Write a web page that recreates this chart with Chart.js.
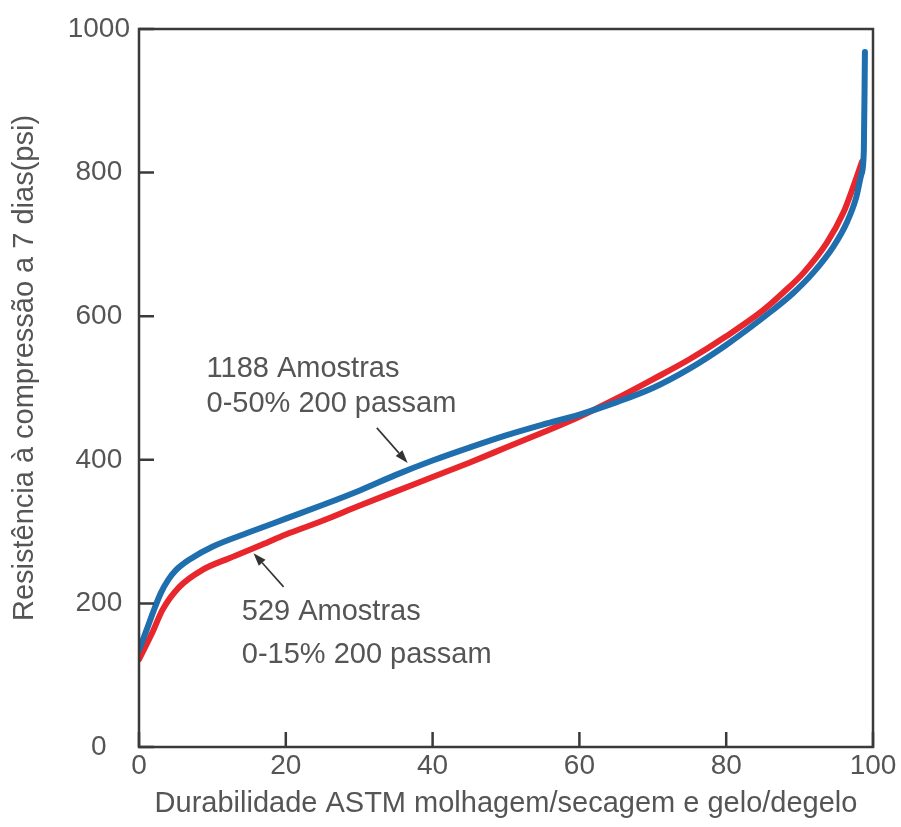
<!DOCTYPE html>
<html>
<head>
<meta charset="utf-8">
<script src="https://cdn.jsdelivr.net/npm/chart.js@4.4.1/dist/chart.umd.min.js"></script>
<style>
  html, body { margin: 0; padding: 0; background: #ffffff; }
  #wrap { width: 901px; height: 827px; }
</style>
</head>
<body>
<div id="wrap"><canvas id="c" width="901" height="827"></canvas></div>
<script>
// ---- Data ----
const xTickValues = [0, 20, 40, 60, 80, 100];
const yTickValues = [0, 200, 400, 600, 800, 1000];

// Series 1: 1188 Amostras, 0-50% 200 passam (blue)
const blueX = [0, 1, 2, 3, 4, 5, 7, 10, 15, 20, 25, 30, 35, 40, 45, 50, 55, 60, 65, 70, 75, 80, 86.4, 89.1, 91.8, 94.6, 96.5, 97.7, 98.4, 98.75, 98.9];
const blueY = [135, 162, 190, 215, 233, 246, 262, 279, 299, 318, 337, 357, 379, 399, 417, 434, 449, 463, 480, 500, 527, 560, 609, 632, 660, 697, 732, 765, 797, 830, 968];

// Series 2: 529 Amostras, 0-15% 200 passam (red)
const redX = [0, 1.8, 3.2, 5.5, 8.7, 12.3, 16.8, 20, 25, 30, 35, 40, 45, 50, 55, 60, 65, 70, 75, 80, 85, 88, 90.5, 93.7, 96, 97.3, 98.5];
const redY = [122, 159, 191, 223, 247, 263, 282, 296, 315, 336, 356, 376, 396, 417, 438, 460, 485, 512, 540, 572, 608, 635, 660, 702, 745, 780, 815];

const noteLines = ['1188 Amostras', '0-50% 200 passam', '529 Amostras', '0-15% 200 passam'];
const noteX = [9.2, 9.2, 14.0, 14.0];
const noteY = [515, 467, 177, 117];

const arrowFromX = [32.4, 19.7];
const arrowFromY = [444.5, 223];
const arrowToX = [36.6, 15.6];
const arrowToY = [395.7, 270];

const xTitle = 'Durabilidade ASTM molhagem/secagem e gelo/degelo';
const yTitle = 'Resistência à compressão a 7 dias(psi)';

// ---- Build chart ----
const FONT = "'Liberation Sans', Arial, Helvetica, sans-serif";
const TEXT = '#555555';
const FRAME = '#3a3a3a';
const TICK_LEN = 15;

const toPts = (xs, ys) => xs.map((x, i) => ({ x: x, y: ys[i] }));

const framePlugin = {
  id: 'frameAndNotes',
  afterDraw(chart) {
    const ctx = chart.ctx;
    const a = chart.chartArea;
    const xs = chart.scales.x, ys = chart.scales.y;
    ctx.save();
    // frame
    ctx.strokeStyle = FRAME;
    ctx.lineWidth = 2.5;
    ctx.strokeRect(a.left, a.top, a.right - a.left, a.bottom - a.top);
    // inward tick marks from the scales' ticks
    ctx.beginPath();
    xs.ticks.forEach(t => {
      const px = xs.getPixelForValue(t.value);
      ctx.moveTo(px, a.bottom);
      ctx.lineTo(px, a.bottom - TICK_LEN);
    });
    ys.ticks.forEach(t => {
      const py = ys.getPixelForValue(t.value);
      ctx.moveTo(a.left, py);
      ctx.lineTo(a.left + TICK_LEN, py);
    });
    ctx.stroke();
    // y axis title
    ctx.fillStyle = TEXT;
    ctx.font = '29px ' + FONT;
    ctx.textAlign = 'center';
    ctx.textBaseline = 'middle';
    ctx.save();
    ctx.translate(25, (a.top + a.bottom) / 2 - 20);
    ctx.rotate(-Math.PI / 2);
    ctx.fillText(yTitle, 0, 0);
    ctx.restore();
    // notes
    ctx.font = '29px ' + FONT;
    ctx.textAlign = 'left';
    ctx.textBaseline = 'alphabetic';
    noteLines.forEach((t, i) => {
      ctx.fillText(t, xs.getPixelForValue(noteX[i]), ys.getPixelForValue(noteY[i]));
    });
    // arrows
    ctx.strokeStyle = '#333333';
    ctx.fillStyle = '#333333';
    ctx.lineWidth = 1.6;
    for (let i = 0; i < arrowFromX.length; i++) {
      const x1 = xs.getPixelForValue(arrowFromX[i]);
      const y1 = ys.getPixelForValue(arrowFromY[i]);
      const x2 = xs.getPixelForValue(arrowToX[i]);
      const y2 = ys.getPixelForValue(arrowToY[i]);
      const ang = Math.atan2(y2 - y1, x2 - x1);
      const hl = 13, hw = 4.5;
      const bx = x2 - hl * Math.cos(ang), by = y2 - hl * Math.sin(ang);
      ctx.beginPath();
      ctx.moveTo(x1, y1);
      ctx.lineTo(bx, by);
      ctx.stroke();
      ctx.beginPath();
      ctx.moveTo(x2, y2);
      ctx.lineTo(bx + hw * Math.sin(ang), by - hw * Math.cos(ang));
      ctx.lineTo(bx - hw * Math.sin(ang), by + hw * Math.cos(ang));
      ctx.closePath();
      ctx.fill();
    }
    ctx.restore();
  }
};

new Chart(document.getElementById('c'), {
  type: 'line',
  data: {
    datasets: [
      {
        label: '1188 Amostras 0-50% 200 passam',
        data: toPts(blueX, blueY),
        borderColor: '#1f6eae',
        borderWidth: 6,
        pointRadius: 0,
        cubicInterpolationMode: 'monotone',
        borderCapStyle: 'round',
        borderJoinStyle: 'round',
        fill: false
      },
      {
        label: '529 Amostras 0-15% 200 passam',
        data: toPts(redX, redY),
        borderColor: '#e8272d',
        borderWidth: 6,
        pointRadius: 0,
        cubicInterpolationMode: 'monotone',
        borderCapStyle: 'round',
        borderJoinStyle: 'round',
        fill: false
      }
    ]
  },
  options: {
    responsive: false,
    animation: false,
    devicePixelRatio: 1,
    layout: { padding: { top: 29, right: 28, bottom: 0, left: 0 } },
    plugins: { legend: { display: false }, tooltip: { enabled: false } },
    scales: {
      x: {
        type: 'linear',
        min: 0, max: 100,
        afterFit: s => { s.height = 80; s.paddingLeft = 0; s.paddingRight = 0; },
        afterBuildTicks: s => { s.ticks = xTickValues.map(v => ({ value: v })); },
        border: { display: false },
        grid: { display: false, drawTicks: false },
        ticks: { color: TEXT, font: { family: FONT, size: 28 }, padding: 2, maxRotation: 0, callback: v => String(v) },
        title: { display: true, text: xTitle, color: TEXT, font: { family: FONT, size: 29 }, padding: { top: 0, bottom: 6 } }
      },
      y: {
        type: 'linear',
        min: 0, max: 1000,
        afterFit: s => { s.width = 139; s.paddingTop = 0; s.paddingBottom = 0; },
        afterBuildTicks: s => { s.ticks = yTickValues.map(v => ({ value: v })); },
        border: { display: false },
        grid: { display: false, drawTicks: false },
        ticks: { color: TEXT, font: { family: FONT, size: 28 }, padding: 9, crossAlign: 'center', callback: v => String(v) },
        title: { display: false, text: yTitle }
      }
    }
  },
  plugins: [framePlugin]
});
</script>
</body>
</html>
